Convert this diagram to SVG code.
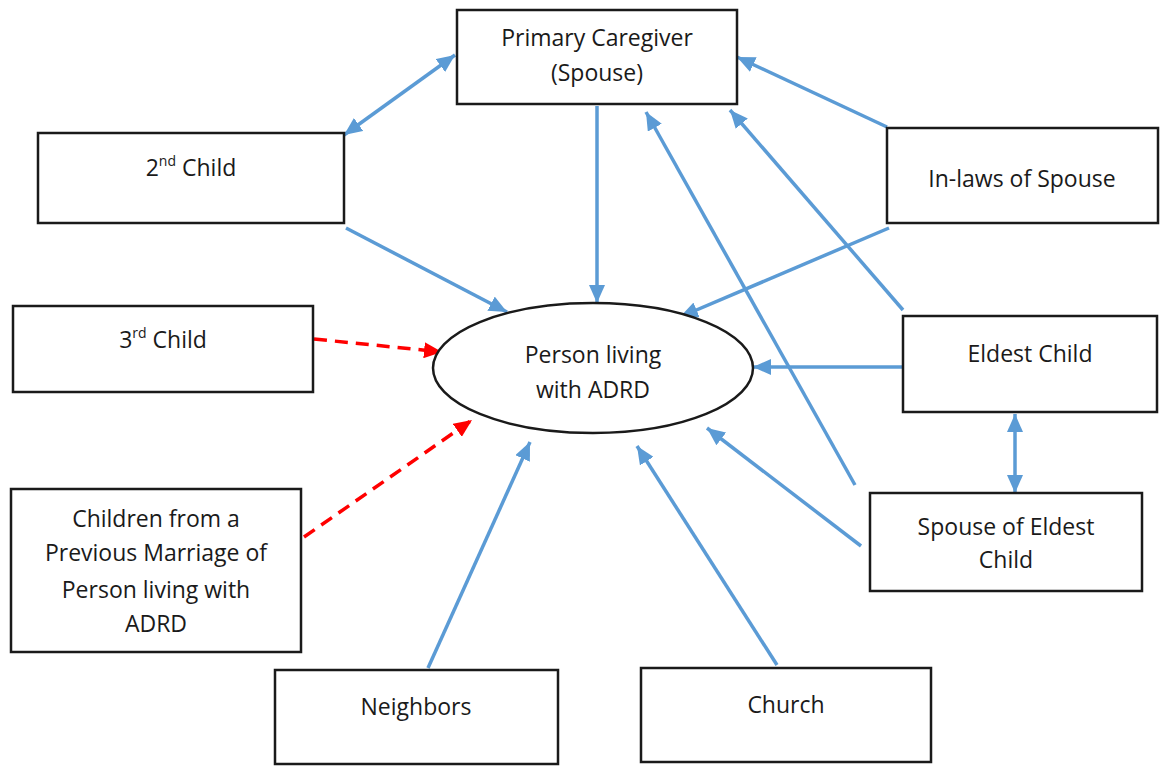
<svg xmlns="http://www.w3.org/2000/svg" width="1160" height="766" viewBox="0 0 1160 766">
<style>
.box{fill:#fff;stroke:#1a1a1a;stroke-width:2.5}
.t{font-family:"Open Sans","Liberation Sans",sans-serif;font-size:23px;fill:#1a1a1a;text-anchor:middle}
.b{stroke:#5B9BD5;stroke-width:3.5;fill:none}
.r{stroke:#FF0000;stroke-width:3.5;fill:none;stroke-dasharray:13 8}
</style>
<defs>
<marker id="ab" markerUnits="userSpaceOnUse" markerWidth="20" markerHeight="16" refX="18" refY="8" orient="auto-start-reverse" viewBox="0 0 20 16"><path d="M0,0 L18,8 L0,16 Z" fill="#5B9BD5"/></marker>
<marker id="ar" markerUnits="userSpaceOnUse" markerWidth="20" markerHeight="16" refX="18" refY="8" orient="auto" viewBox="0 0 20 16"><path d="M0,0 L18,8 L0,16 Z" fill="#FF0000"/></marker>
</defs>
<rect width="1160" height="766" fill="#fff"/>
<g id="connectors">
<line class="b" x1="455" y1="55" x2="344" y2="135" marker-start="url(#ab)" marker-end="url(#ab)"/>
<line class="b" x1="597" y1="106" x2="597" y2="303" marker-end="url(#ab)"/>
<line class="b" x1="346" y1="228" x2="507" y2="312" marker-end="url(#ab)"/>
<line class="b" x1="887" y1="127" x2="737" y2="57" marker-end="url(#ab)"/>
<line class="b" x1="889" y1="228" x2="680" y2="317" marker-end="url(#ab)"/>
<line class="b" x1="903" y1="310" x2="730" y2="110" marker-end="url(#ab)"/>
<line class="b" x1="903" y1="367" x2="753" y2="367" marker-end="url(#ab)"/>
<line class="b" x1="855" y1="485" x2="646" y2="112" marker-end="url(#ab)"/>
<line class="b" x1="861" y1="546" x2="707" y2="428" marker-end="url(#ab)"/>
<line class="b" x1="1015" y1="414" x2="1015" y2="493" marker-start="url(#ab)" marker-end="url(#ab)"/>
<line class="b" x1="428" y1="668" x2="530" y2="442" marker-end="url(#ab)"/>
<line class="b" x1="777" y1="665" x2="637" y2="446" marker-end="url(#ab)"/>
<line class="r" x1="314" y1="339" x2="442" y2="352" marker-end="url(#ar)"/>
<line class="r" x1="304" y1="537" x2="472" y2="420" marker-end="url(#ar)"/>
</g>
<g id="person">
<ellipse cx="593" cy="368" rx="160" ry="65" fill="#fff" stroke="#1a1a1a" stroke-width="2.5"/>
<text class="t" x="593" y="363">Person living</text>
<text class="t" x="593" y="398">with ADRD</text>
</g>
<g id="primary">
<rect class="box" x="457" y="10" width="280" height="94"/>
<text class="t" x="597" y="46">Primary Caregiver</text>
<text class="t" x="597" y="81">(Spouse)</text>
</g>
<g id="child2">
<rect class="box" x="38" y="133" width="306" height="90"/>
<text class="t" x="191" y="176">2<tspan font-size="14" dy="-10">nd</tspan><tspan dy="10"> Child</tspan></text>
</g>
<g id="inlaws">
<rect class="box" x="887" y="128" width="271" height="95"/>
<text class="t" x="1022" y="187">In-laws of Spouse</text>
</g>
<g id="child3">
<rect class="box" x="13" y="306" width="300" height="86"/>
<text class="t" x="163" y="348">3<tspan font-size="14" dy="-10">rd</tspan><tspan dy="10"> Child</tspan></text>
</g>
<g id="eldest">
<rect class="box" x="903" y="316" width="254" height="96"/>
<text class="t" x="1030" y="362">Eldest Child</text>
</g>
<g id="spouseEldest">
<rect class="box" x="870" y="493" width="272" height="98"/>
<text class="t" x="1006" y="535">Spouse of Eldest</text>
<text class="t" x="1006" y="568">Child</text>
</g>
<g id="prevChildren">
<rect class="box" x="11" y="489" width="290" height="163"/>
<text class="t" x="156" y="527">Children from a</text>
<text class="t" x="156" y="561">Previous Marriage of</text>
<text class="t" x="156" y="598">Person living with</text>
<text class="t" x="156" y="632">ADRD</text>
</g>
<g id="neighbors">
<rect class="box" x="275" y="670" width="283" height="94"/>
<text class="t" x="416" y="715">Neighbors</text>
</g>
<g id="church">
<rect class="box" x="641" y="668" width="290" height="94"/>
<text class="t" x="786" y="713">Church</text>
</g>
</svg>
